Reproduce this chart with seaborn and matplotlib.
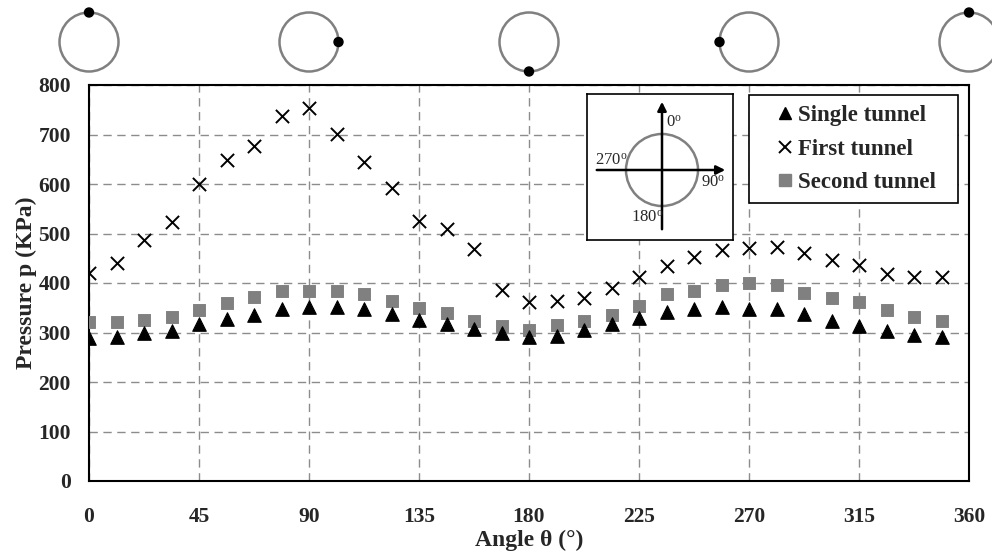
import matplotlib.pyplot as plt
import numpy as np
import pandas as pd
import seaborn as sns
from matplotlib.lines import Line2D
from matplotlib.patches import Circle

# Angle positions (deg) and measured pressures (kPa)
angles = [0, 11.25, 22.5, 33.75, 45, 56.25, 67.5, 78.75, 90, 101.25, 112.5, 123.75,
          135, 146.25, 157.5, 168.75, 180, 191.25, 202.5, 213.75, 225, 236.25, 247.5,
          258.75, 270, 281.25, 292.5, 303.75, 315, 326.25, 337.5, 348.75]
single_tunnel = [288, 290, 298, 303, 318, 328, 336, 347, 352, 352, 347, 337,
                 325, 317, 307, 300, 290, 293, 305, 317, 329, 342, 347,
                 351, 347, 347, 337, 323, 314, 303, 294, 290]
first_tunnel = [420, 440, 487, 523, 600, 648, 677, 737, 754, 701, 645, 592,
                525, 509, 469, 386, 361, 364, 370, 390, 412, 434, 452,
                467, 470, 472, 460, 446, 436, 418, 413, 413]
second_tunnel = [321, 321, 325, 332, 345, 359, 372, 384, 384, 384, 377, 364,
                 350, 340, 324, 313, 305, 316, 324, 335, 354, 377, 384,
                 396, 399, 396, 380, 369, 361, 345, 332, 324]

x_ticks = [0, 45, 90, 135, 180, 225, 270, 315, 360]
y_ticks = [0, 100, 200, 300, 400, 500, 600, 700, 800]
circle_angles = [0, 90, 180, 270, 360]

df = pd.DataFrame({
    "angle": angles,
    "Single tunnel": single_tunnel,
    "First tunnel": first_tunnel,
    "Second tunnel": second_tunnel,
})

sns.set_theme(style="white")
plt.rcParams["font.family"] = ["Liberation Serif", "DejaVu Serif"]
plt.rcParams["mathtext.fontset"] = "custom"
plt.rcParams["mathtext.rm"] = "Liberation Serif:normal"
plt.rcParams["mathtext.it"] = "Liberation Serif:italic"
plt.rcParams["mathtext.bf"] = "Liberation Serif:bold"

W, H = 992, 559
fig = plt.figure(figsize=(W / 100, H / 100), dpi=100)
ax = fig.add_axes([89 / W, 1 - 481 / H, 880 / W, 396 / H])

grey = "#808080"
sns.scatterplot(data=df, x="angle", y="Second tunnel", marker="s", color=grey,
                edgecolor=grey, s=70, ax=ax, zorder=3)
sns.scatterplot(data=df, x="angle", y="First tunnel", marker="x", color="black",
                s=90, linewidth=1.4, ax=ax, zorder=4)
sns.scatterplot(data=df, x="angle", y="Single tunnel", marker="^", color="black",
                edgecolor="black", s=95, ax=ax, zorder=5)

ax.set_xlim(0, 360)
ax.set_ylim(0, 800)
ax.set_xticks(x_ticks)
ax.set_yticks(y_ticks)
ax.tick_params(axis="x", length=0, pad=19, labelsize=15.5)
ax.tick_params(axis="y", length=0, pad=13, labelsize=15.5)
for lab in ax.get_xticklabels() + ax.get_yticklabels():
    lab.set_fontweight("bold")
ax.grid(True, color="#8c8c8c", linestyle=(0, (6, 4)), linewidth=1)
for sp in ax.spines.values():
    sp.set_color("black")
    sp.set_linewidth(1.5)
ax.set_xlabel("Angle θ (°)", fontsize=17, fontweight="bold", labelpad=2)
ax.set_ylabel("Pressure p (KPa)", fontsize=17, fontweight="bold", labelpad=1)

handles = [
    Line2D([], [], marker="^", color="black", linestyle="none", markersize=9),
    Line2D([], [], marker="x", color="black", linestyle="none", markersize=9, markeredgewidth=1.4),
    Line2D([], [], marker="s", color=grey, linestyle="none", markersize=8),
]
leg = ax.legend(handles, ["Single tunnel", "First tunnel", "Second tunnel"],
                loc="upper left", bbox_to_anchor=(0.75, 0.707, 0.2375, 0.268),
                mode="expand", borderaxespad=0,
                frameon=True, fancybox=False, edgecolor="black", framealpha=1,
                prop={"family": "Liberation Serif", "weight": "bold", "size": 16.5},
                handletextpad=-0.57, handlelength=2.27, borderpad=0.45, labelspacing=0.54)
leg.get_frame().set_linewidth(1.2)

# Orientation sketch inset (pixel-like units)
ins = fig.add_axes([587 / W, 1 - 240 / H, 146 / W, 146 / H])
ins.set_xlim(0, 146)
ins.set_ylim(0, 146)
ins.set_xticks([])
ins.set_yticks([])
ins.set_facecolor("white")
for sp in ins.spines.values():
    sp.set_color("black")
    sp.set_linewidth(1.2)
ins.add_patch(Circle((75, 70), 36, fill=False, edgecolor=grey, linewidth=1.8))
ins.annotate("", xy=(75, 141), xytext=(75, 8),
             arrowprops=dict(arrowstyle="-|>", color="black", lw=1.8, mutation_scale=13))
ins.annotate("", xy=(141, 70), xytext=(7, 70),
             arrowprops=dict(arrowstyle="-|>", color="black", lw=1.8, mutation_scale=13))
lab_kw = dict(fontsize=12, fontweight="normal", va="center", ha="left")
ins.text(79, 117, r"0$^{\mathrm{o}}$", **lab_kw)
ins.text(8, 79, r"270$^{\mathrm{o}}$", **lab_kw)
ins.text(114, 57, r"90$^{\mathrm{o}}$", **lab_kw)
ins.text(44, 22, r"180$^{\mathrm{o}}$", **lab_kw)

# Position circles above the plot, aligned with the angle axis
top = fig.add_axes([89 / W, 1 - 85 / H, 880 / W, 85 / H])
px_per_deg = 880 / 360
top.set_xlim(0, 360)
top.set_ylim(0, 85 / px_per_deg)
top.axis("off")
cy = 43 / px_per_deg
r = 29.5 / px_per_deg
for a in circle_angles:
    top.add_patch(Circle((a, cy), r, fill=False, edgecolor=grey, linewidth=1.8, clip_on=False))
    t = np.deg2rad(a)
    top.add_patch(Circle((a + r * np.sin(t), cy + r * np.cos(t)), 4.5 / px_per_deg,
                         color="black", clip_on=False, zorder=3))

fig.savefig("out.png", dpi=100)
